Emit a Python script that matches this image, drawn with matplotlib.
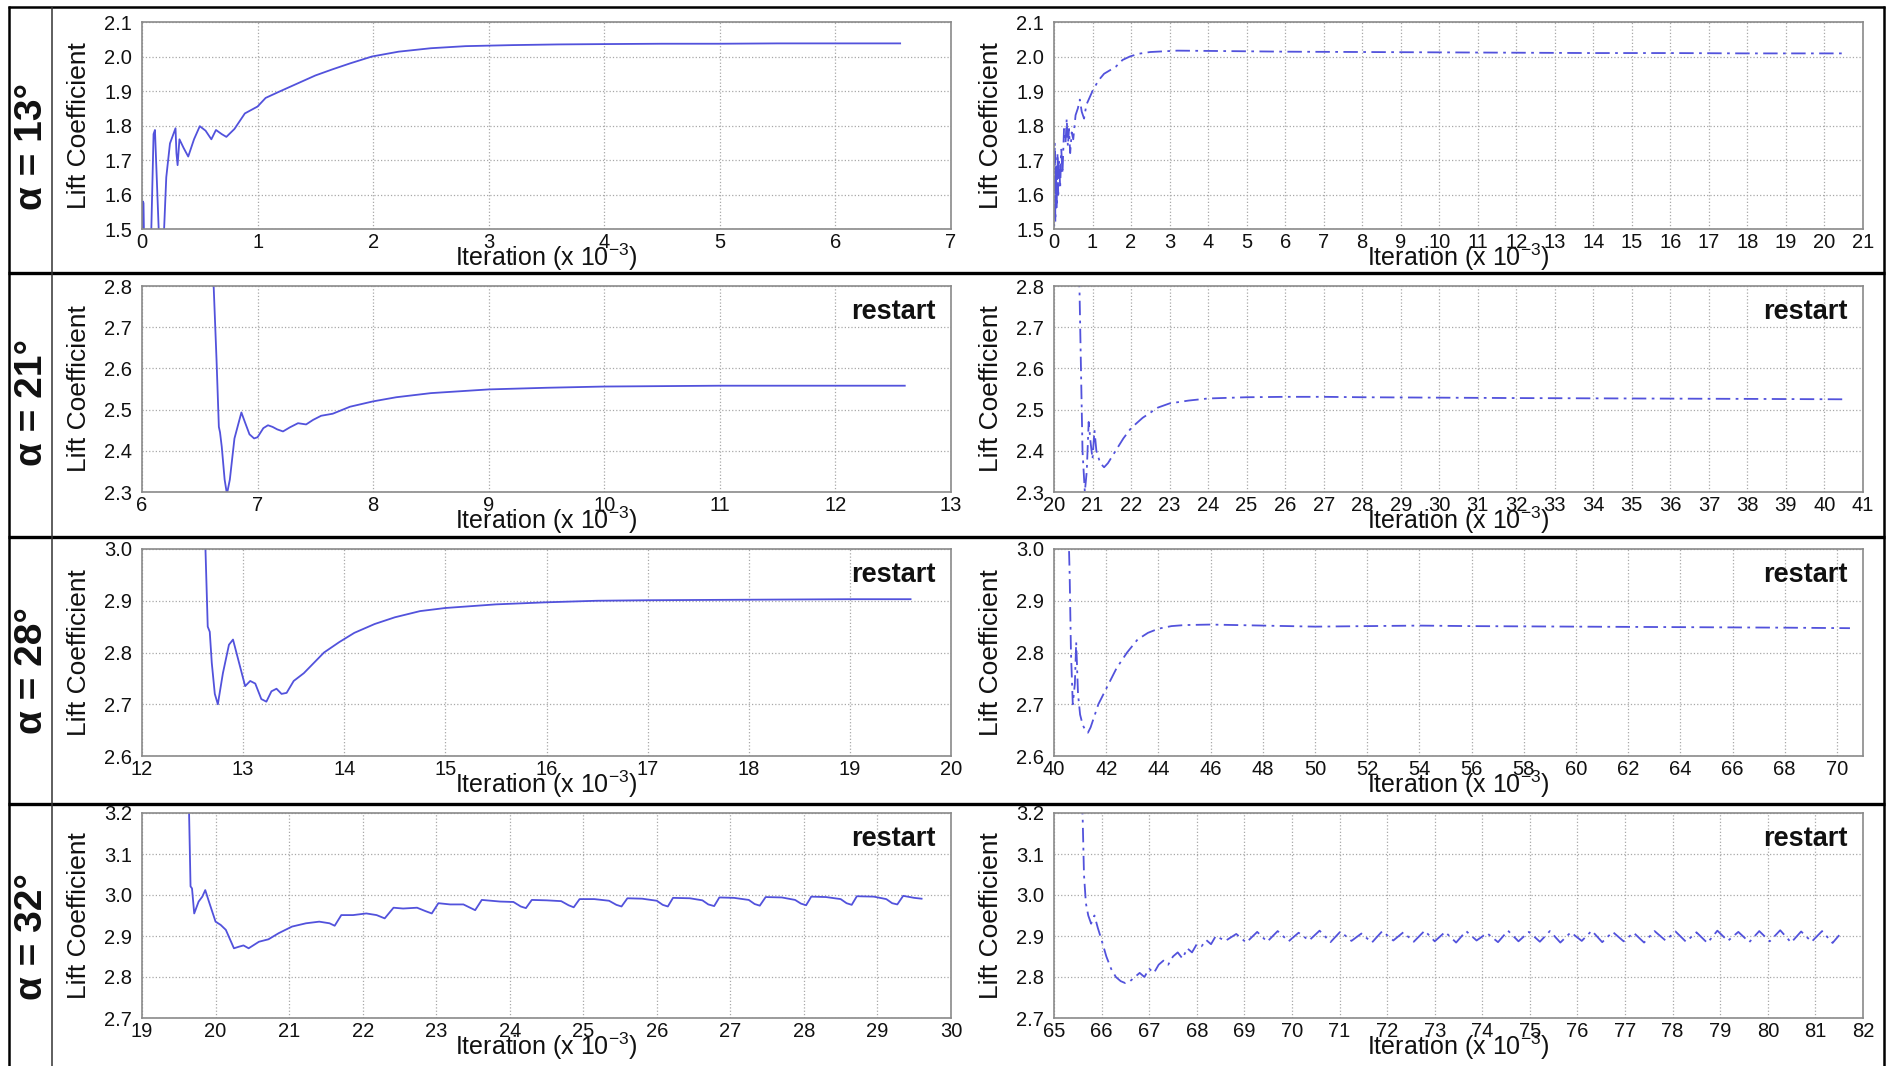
import matplotlib
matplotlib.use('Agg')
import matplotlib.pyplot as plt
from matplotlib.lines import Line2D

plt.rcParams['font.family'] = ['Liberation Sans', 'DejaVu Sans']
plt.rcParams['mathtext.fontset'] = 'custom'
plt.rcParams['mathtext.rm'] = 'Liberation Sans'
plt.rcParams['mathtext.it'] = 'Liberation Sans:italic'
plt.rcParams['mathtext.bf'] = 'Liberation Sans:bold'

# ---------------- data ----------------
row_labels = ['α = 13°', 'α = 21°', 'α = 28°', 'α = 32°']

# alpha = 13 deg
x1l = [0.0, 0.008, 0.013, 0.02, 0.075, 0.1, 0.112, 0.15, 0.185, 0.21, 0.242, 0.29, 0.298, 0.308, 0.324,
       0.36, 0.40, 0.45, 0.50, 0.55, 0.60, 0.64, 0.69, 0.73, 0.80, 0.89, 1.0, 1.07, 1.2, 1.36, 1.5, 1.65,
       1.8, 1.99, 2.22, 2.5, 2.8, 3.2, 3.6, 4.0, 4.5, 5.0, 5.5, 6.0, 6.56]
y1l = [1.40, 1.58, 1.575, 1.42, 1.42, 1.775, 1.787, 1.45, 1.45, 1.65, 1.748, 1.792, 1.72, 1.685, 1.76,
       1.735, 1.71, 1.76, 1.798, 1.785, 1.76, 1.787, 1.775, 1.767, 1.79, 1.835, 1.855, 1.88, 1.90, 1.924,
       1.945, 1.963, 1.98, 2.0, 2.014, 2.024, 2.03, 2.033, 2.035, 2.036, 2.037, 2.037, 2.038, 2.038, 2.038]
x1r = [0.0, 0.02, 0.035, 0.05, 0.07, 0.09, 0.11, 0.13, 0.16, 0.19, 0.22, 0.26, 0.3, 0.33, 0.36,
       0.39, 0.42, 0.46, 0.5, 0.56, 0.62, 0.67, 0.72, 0.78, 0.84, 0.92, 1.0, 1.15, 1.3, 1.45,
       1.6, 1.78, 1.97, 2.2, 2.5, 3.2, 4.2, 6.0, 8.0, 10.0, 12.0, 14.0, 16.0, 18.0, 20.5]
y1r = [1.45, 1.75, 1.52, 1.68, 1.56, 1.72, 1.60, 1.70, 1.62, 1.73, 1.66, 1.79, 1.75, 1.82, 1.74,
       1.79, 1.72, 1.78, 1.76, 1.83, 1.85, 1.875, 1.84, 1.82, 1.86, 1.88, 1.90, 1.93, 1.95, 1.96,
       1.97, 1.99, 2.0, 2.008, 2.013, 2.017, 2.016, 2.014, 2.013, 2.012, 2.011, 2.010, 2.010, 2.009, 2.009]

# alpha = 21 deg
x2l = [6.60, 6.62, 6.645, 6.665, 6.675, 6.69, 6.715, 6.735, 6.76, 6.80, 6.86, 6.89, 6.93, 6.97, 7.0,
       7.05, 7.09, 7.13, 7.17, 7.22, 7.28, 7.35, 7.42, 7.48, 7.55, 7.65, 7.8, 8.0, 8.2, 8.5,
       9.0, 9.5, 10.0, 10.5, 11.0, 11.5, 12.0, 12.6]
y2l = [2.95, 2.80, 2.62, 2.458, 2.445, 2.41, 2.33, 2.295, 2.33, 2.43, 2.493, 2.47, 2.44, 2.43, 2.433,
       2.455, 2.462, 2.458, 2.452, 2.447, 2.457, 2.467, 2.464, 2.475, 2.485, 2.49, 2.507, 2.52, 2.53, 2.54,
       2.549, 2.553, 2.556, 2.557, 2.558, 2.558, 2.558, 2.558]
x2r = [20.62, 20.66, 20.70, 20.74, 20.80, 20.85, 20.90, 20.95, 21.00, 21.05, 21.10, 21.20, 21.30, 21.40,
       21.60, 21.80, 22.00, 22.30, 22.70, 23.00, 23.50, 24.00, 25.00, 26.00, 27.00, 28.00, 30.00, 32.00,
       35.00, 38.00, 40.50]
y2r = [2.90, 2.80, 2.60, 2.40, 2.30, 2.35, 2.47, 2.42, 2.38, 2.45, 2.40, 2.37, 2.36, 2.37,
       2.40, 2.43, 2.455, 2.48, 2.505, 2.515, 2.522, 2.527, 2.530, 2.531, 2.531, 2.530, 2.529, 2.528,
       2.527, 2.526, 2.525]

# alpha = 28 deg
x3l = [12.62, 12.65, 12.67, 12.69, 12.72, 12.75, 12.8, 12.86, 12.9, 12.96, 13.02, 13.07, 13.12, 13.18,
       13.23, 13.28, 13.33, 13.38, 13.43, 13.5, 13.6, 13.7, 13.8, 13.95, 14.1, 14.3, 14.5, 14.75, 15.0,
       15.5, 16.0, 16.5, 17.0, 18.0, 19.0, 19.6]
y3l = [3.05, 2.85, 2.84, 2.78, 2.72, 2.70, 2.76, 2.815, 2.825, 2.78, 2.735, 2.745, 2.74, 2.71,
       2.705, 2.725, 2.73, 2.72, 2.722, 2.745, 2.76, 2.78, 2.80, 2.82, 2.838, 2.855, 2.868, 2.88, 2.886,
       2.893, 2.897, 2.9, 2.901, 2.902, 2.903, 2.903]
x3r = [40.55, 40.60, 40.65, 40.72, 40.80, 40.85, 40.92, 41.0, 41.1, 41.2, 41.3, 41.4, 41.5, 41.7, 42.0,
       42.4, 42.8, 43.2, 43.6, 44.0, 44.5, 45.0, 46.0, 48.0, 50.0, 52.0, 54.0, 56.0, 60.0, 64.0, 68.0, 70.5]
y3r = [3.05, 2.95, 2.80, 2.70, 2.74, 2.82, 2.72, 2.68, 2.66, 2.65, 2.645, 2.655, 2.67, 2.70, 2.73,
       2.77, 2.80, 2.825, 2.838, 2.846, 2.851, 2.853, 2.854, 2.852, 2.850, 2.851, 2.852, 2.851, 2.850,
       2.849, 2.848, 2.847]

# alpha = 32 deg
x4l = [19.62, 19.64, 19.66, 19.68, 19.71, 19.77, 19.82, 19.86, 19.91, 20.0,
       20.07, 20.14, 20.25, 20.32, 20.38, 20.45, 20.59, 20.72, 20.86, 21.04,
       21.23, 21.41, 21.55, 21.62, 21.71, 21.87, 22.05, 22.19, 22.30, 22.42,
       22.55, 22.74, 22.85, 22.94, 23.03, 23.19, 23.37, 23.53, 23.62, 23.87,
       24.05, 24.15, 24.22, 24.30, 24.50, 24.70, 24.80, 24.87, 24.95, 25.15,
       25.35, 25.45, 25.52, 25.60, 25.80, 26.00, 26.08, 26.15, 26.22, 26.45,
       26.62, 26.70, 26.78, 26.85, 27.05, 27.25, 27.33, 27.40, 27.48, 27.70,
       27.88, 27.96, 28.03, 28.10, 28.30, 28.50, 28.58, 28.65, 28.72, 28.95,
       29.12, 29.20, 29.27, 29.35, 29.50, 29.60]
y4l = [3.25, 3.20, 3.021, 3.016, 2.955, 2.984, 2.996, 3.012, 2.984, 2.935,
       2.927, 2.915, 2.87, 2.874, 2.877, 2.87, 2.886, 2.892, 2.907, 2.923,
       2.931, 2.935, 2.931, 2.925, 2.951, 2.951, 2.955, 2.951, 2.943, 2.969,
       2.967, 2.969, 2.961, 2.955, 2.98, 2.977, 2.977, 2.963, 2.988, 2.984,
       2.983, 2.972, 2.968, 2.988, 2.987, 2.985, 2.975, 2.97, 2.99, 2.99,
       2.986, 2.976, 2.972, 2.992, 2.991, 2.986, 2.976, 2.972, 2.993, 2.992,
       2.987, 2.977, 2.973, 2.994, 2.993, 2.988, 2.978, 2.974, 2.995, 2.994,
       2.988, 2.979, 2.975, 2.996, 2.995, 2.99, 2.98, 2.976, 2.997, 2.996,
       2.99, 2.98, 2.977, 2.998, 2.993, 2.991]
x4r_head = [65.55, 65.60, 65.63, 65.67, 65.72, 65.78, 65.85, 65.92, 66.00, 66.10,
            66.20, 66.30, 66.40, 66.50, 66.60, 66.70, 66.80, 66.90, 67.00, 67.10,
            67.20, 67.30, 67.40, 67.50, 67.60, 67.70, 67.80, 67.90, 68.00, 68.10,
            68.20, 68.30, 68.40]
y4r_head = [3.30, 3.20, 3.05, 2.98, 2.95, 2.93, 2.95, 2.92, 2.89, 2.85,
            2.82, 2.80, 2.79, 2.785, 2.79, 2.80, 2.81, 2.80, 2.82, 2.81,
            2.83, 2.84, 2.83, 2.85, 2.86, 2.845, 2.87, 2.86, 2.88, 2.875,
            2.89, 2.88, 2.90]
x4r_tail = [68.60, 68.83, 69.04, 69.27, 69.48, 69.70, 69.93, 70.14, 70.36, 70.58,
            70.81, 71.02, 71.25, 71.46, 71.68, 71.90, 72.13, 72.34, 72.56, 72.79,
            73.00, 73.22, 73.45, 73.66, 73.88, 74.10, 74.33, 74.54, 74.76, 74.98,
            75.21, 75.42, 75.64, 75.86, 76.09, 76.30, 76.52, 76.74, 76.97, 77.18,
            77.40, 77.62, 77.85, 78.06, 78.28, 78.50, 78.73, 78.94, 79.16, 79.38,
            79.61, 79.82, 80.04, 80.26, 80.49, 80.70, 80.92, 81.14, 81.36, 81.50]
y4r_tail = [2.888, 2.905, 2.884, 2.910, 2.886, 2.912, 2.887, 2.908, 2.889, 2.913,
            2.885, 2.911, 2.888, 2.906, 2.884, 2.912, 2.889, 2.909, 2.886, 2.913,
            2.887, 2.910, 2.884, 2.912, 2.889, 2.907, 2.885, 2.913, 2.887, 2.910,
            2.886, 2.912, 2.884, 2.909, 2.888, 2.913, 2.885, 2.910, 2.887, 2.908,
            2.884, 2.912, 2.889, 2.911, 2.886, 2.909, 2.883, 2.913, 2.888, 2.910,
            2.885, 2.912, 2.887, 2.914, 2.884, 2.911, 2.886, 2.912, 2.883, 2.902]
x4r = x4r_head + x4r_tail
y4r = y4r_head + y4r_tail

left_series = [(x1l, y1l), (x2l, y2l), (x3l, y3l), (x4l, y4l)]
right_series = [(x1r, y1r), (x2r, y2r), (x3r, y3r), (x4r, y4r)]

left_xticks = [list(range(0, 8)), list(range(6, 14)), list(range(12, 21)), list(range(19, 31))]
right_xticks = [list(range(0, 22)), list(range(20, 42)), list(range(40, 71, 2)), list(range(65, 83))]
left_xlim = [(0, 7), (6, 13), (12, 20), (19, 30)]
right_xlim = [(0, 21), (20, 41), (40, 71), (65, 82)]
yticks = [[1.5, 1.6, 1.7, 1.8, 1.9, 2.0, 2.1],
          [2.3, 2.4, 2.5, 2.6, 2.7, 2.8],
          [2.6, 2.7, 2.8, 2.9, 3.0],
          [2.7, 2.8, 2.9, 3.0, 3.1, 3.2]]
show_restart = [False, True, True, True]

# ---------------- layout ----------------
W, H = 1889, 1066
fig = plt.figure(figsize=(W / 100, H / 100), dpi=100)

col_x = [(142, 951), (1054, 1863)]
rows = [(22, 229), (286, 492), (549, 756), (813, 1018)]
LINE_C = '#5252dc'
label_centers = [146, 402, 671, 937]


def rect(x0, top, x1, bottom):
    return [x0 / W, 1 - bottom / H, (x1 - x0) / W, (bottom - top) / H]


def style_axes(ax, xt, xl, yt, h, w, restart):
    ax.set_xlim(*xl)
    ax.set_ylim(yt[0], yt[-1])
    ax.set_xticks(xt)
    ax.set_xticklabels([str(v) for v in xt])
    ax.set_yticks(yt)
    ax.set_yticklabels(['%.1f' % v for v in yt])
    ax.grid(True, linestyle=':', color='#a8a8a8', linewidth=0.9)
    ax.set_axisbelow(True)
    ax.tick_params(axis='both', length=0, labelsize=14.5, labelcolor='#111111')
    ax.tick_params(axis='x', pad=3)
    ax.tick_params(axis='y', pad=7)
    for s in ax.spines.values():
        s.set_color('#8a8a8a')
        s.set_linewidth(1.2)
    ax.set_xlabel('Iteration (x 10$^{\\mathrm{-3}}$)', fontsize=18, color='#111111')
    ax.xaxis.set_label_coords(0.5, -37 / h)
    ax.xaxis.label.set_va('baseline')
    ax.set_ylabel('Lift Coefficient', fontsize=19, color='#111111', va='center')
    ax.yaxis.set_label_coords(-63 / w, 0.5)
    if restart:
        ax.text(1 - 15 / w, 1 - 13 / h, 'restart', transform=ax.transAxes, ha='right', va='top',
                fontsize=19.5, fontweight='bold', color='#111111')


for r in range(4):
    top, bottom = rows[r]
    h = bottom - top
    # left column (solid)
    x0, x1 = col_x[0]
    axl = fig.add_axes(rect(x0, top, x1, bottom))
    xs, ys = left_series[r]
    axl.plot(xs, ys, color=LINE_C, linewidth=1.3, solid_joinstyle='round')
    style_axes(axl, left_xticks[r], left_xlim[r], yticks[r], h, x1 - x0, show_restart[r])
    # right column (dash-dot)
    x0, x1 = col_x[1]
    axr = fig.add_axes(rect(x0, top, x1, bottom))
    xs, ys = right_series[r]
    axr.plot(xs, ys, color=LINE_C, linewidth=1.3, linestyle=(0, (8, 3, 1.5, 3)))
    style_axes(axr, right_xticks[r], right_xlim[r], yticks[r], h, x1 - x0, show_restart[r])
    # row label
    fig.text(32 / W, 1 - label_centers[r] / H, row_labels[r], rotation=90, ha='center', va='center',
             fontsize=28, fontweight='bold', color='#111111')


def hline(y, x0, x1, lw, c='black'):
    fig.add_artist(Line2D([x0 / W, x1 / W], [1 - y / H, 1 - y / H], transform=fig.transFigure,
                          color=c, linewidth=lw, solid_capstyle='butt'))


def vline(x, y0, y1, lw, c='black'):
    fig.add_artist(Line2D([x / W, x / W], [1 - y0 / H, 1 - y1 / H], transform=fig.transFigure,
                          color=c, linewidth=lw, solid_capstyle='butt'))


hline(7, 8, 1885, 1.8)
for yy in [273, 537, 804]:
    hline(yy, 8, 1885, 2.4)
vline(9, 6, H, 1.8)
vline(1884, 6, H, 1.8)
vline(52, 7, H, 1.1, '#333333')

fig.savefig('out.png', dpi=100)
